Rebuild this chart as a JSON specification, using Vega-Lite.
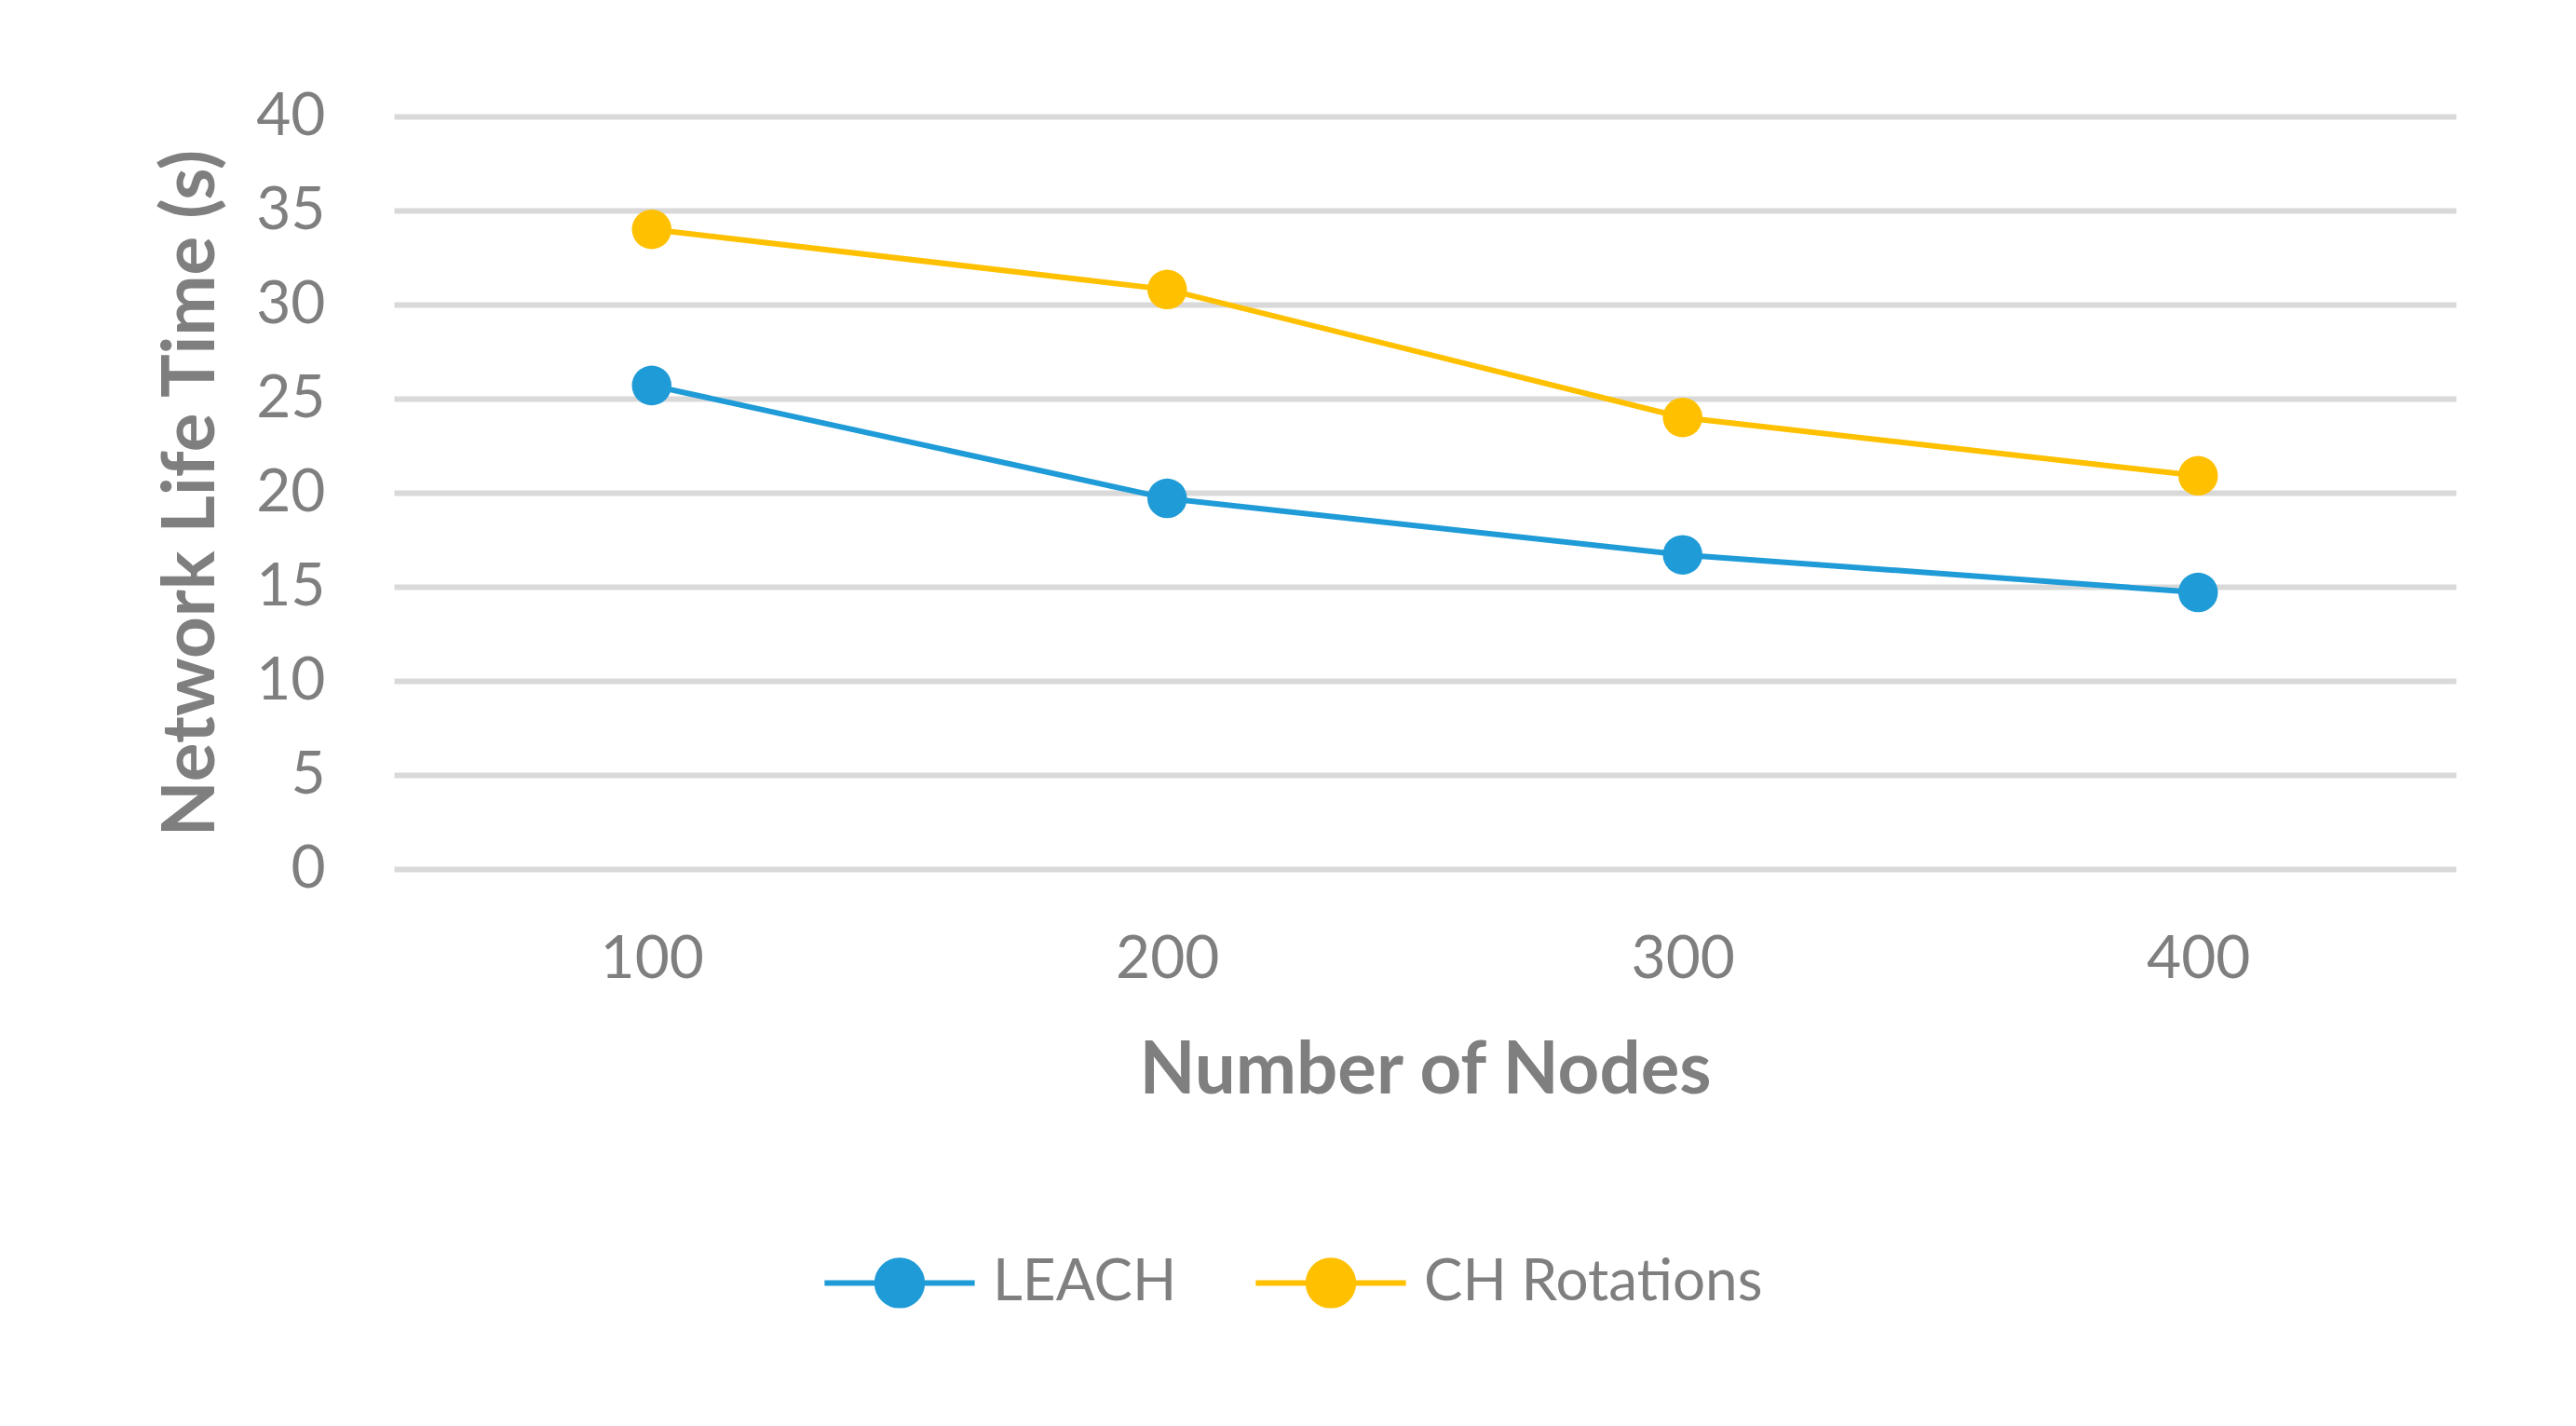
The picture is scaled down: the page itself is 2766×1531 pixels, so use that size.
{
  "$schema": "https://vega.github.io/schema/vega-lite/v6.json",
  "autosize": {"type": "none"},
  "padding": {"left": 423, "top": 125, "right": 129, "bottom": 598},
  "width": 2214,
  "height": 808,
  "background": "white",
  "config": {
    "view": {"stroke": null},
    "font": "Lato",
    "axis": {"labelFont": "Lato", "titleFont": "Lato", "labelColor": "#7f7f7f", "titleColor": "#7f7f7f"},
    "legend": {"labelFont": "Lato", "labelColor": "#7f7f7f"}
  },
  "data": {
    "values": [
      {"nodes": "100", "series": "LEACH", "value": 25.7},
      {"nodes": "200", "series": "LEACH", "value": 19.7},
      {"nodes": "300", "series": "LEACH", "value": 16.7},
      {"nodes": "400", "series": "LEACH", "value": 14.7},
      {"nodes": "100", "series": "CH Rotations", "value": 34.0},
      {"nodes": "200", "series": "CH Rotations", "value": 30.8},
      {"nodes": "300", "series": "CH Rotations", "value": 24.0},
      {"nodes": "400", "series": "CH Rotations", "value": 20.9}
    ]
  },
  "encoding": {
    "x": {
      "field": "nodes", "type": "ordinal",
      "scale": {"type": "point", "padding": 0.5},
      "axis": {
        "title": "Number of Nodes", "labelAngle": 0, "labelFontSize": 64, "labelPadding": 97,
        "labelBaseline": "middle", "ticks": false, "domain": false, "grid": false,
        "titleFontSize": 78, "titleFontWeight": "bold", "titleY": 217, "titleBaseline": "middle"
      }
    },
    "y": {
      "field": "value", "type": "quantitative",
      "scale": {"domain": [0, 40]},
      "axis": {
        "title": "Network Life Time (s)", "values": [0, 5, 10, 15, 20, 25, 30, 35, 40],
        "labelFontSize": 64, "labelPadding": 74, "ticks": false, "domain": false,
        "grid": true, "gridColor": "#d9d9d9", "gridWidth": 6,
        "titleFontSize": 78, "titleFontWeight": "bold", "titleX": -217, "titleY": 404,
        "titleAngle": 270, "titleBaseline": "middle", "titleAlign": "center"
      }
    },
    "color": {
      "field": "series", "type": "nominal",
      "scale": {"domain": ["LEACH", "CH Rotations"], "range": ["#1f9bd7", "#ffc000"]},
      "legend": {
        "title": null, "orient": "none", "direction": "horizontal",
        "legendX": 459, "legendY": 1168, "labelLimit": 0,
        "labelFontSize": 62, "labelOffset": 16, "columnPadding": 72,
        "symbolType": "M-1,0H1M-0.3,0A0.3,0.3 0 1,1 0.3,0A0.3,0.3 0 1,1 -0.3,0Z",
        "symbolSize": 26000, "symbolStrokeWidth": 6, "symbolOpacity": 1
      }
    }
  },
  "layer": [
    {"mark": {"type": "line", "strokeWidth": 6}},
    {"mark": {"type": "point", "filled": true, "size": 1810, "opacity": 1}}
  ]
}
